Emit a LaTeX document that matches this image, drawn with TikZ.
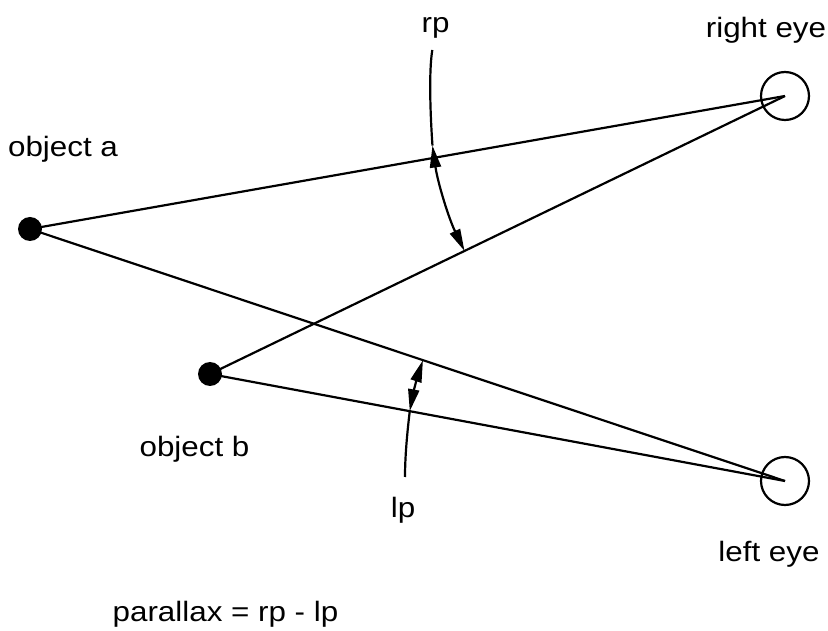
\documentclass[tikz,border=0pt]{standalone}
\usepackage{fontspec}
\setmainfont{Liberation Sans}[FakeStretch=1.12]
\usetikzlibrary{arrows.meta,calc}
\begin{document}
\begin{tikzpicture}[x=1pt,y=1pt,
  ln/.style={line width=2.2pt},
  dot/.style={circle,fill=black,minimum size=24pt,inner sep=0pt},
  eye/.style={circle,draw=black,line width=2.2pt,minimum size=48pt,inner sep=0pt},
  lbl/.style={font=\fontsize{28}{32}\selectfont,inner sep=0pt,anchor=base},
  tips/.style={{Triangle[length=22pt,width=11pt]}-{Triangle[length=22pt,width=11pt]}}]
\useasboundingbox (0,0) rectangle (828,630);
% objects and eyes
\node[dot] (a) at (30,401) {};
\node[dot] (b) at (210,256) {};
\node[eye] (re) at (785,534) {};
\node[eye] (le) at (785,149) {};
% sight lines
\draw[ln] (a.center) -- (re.center);
\draw[ln] (a.center) -- (le.center);
\draw[ln] (b.center) -- (re.center);
\draw[ln] (b.center) -- (le.center);
% rp angle
\coordinate (rp1) at ($(re.center)+(188:356)$);
\draw[ln,tips] (rp1) arc[start angle=188,end angle=205.8,radius=356];
\coordinate (rptail) at (432.3,580);
\draw[ln] (rp1) .. controls (430,520) and (429,560) .. (rptail);
% lp angle
\coordinate (lp1) at ($(le.center)+(161.55:381.7)$);
\coordinate (lp2) at ($(le.center)+(169.46:381.7)$);
\draw[ln,tips] (lp1) arc[start angle=161.55,end angle=169.46,radius=381.7];
\coordinate (lptail) at (405,153);
\draw[ln] (lp2) .. controls (407.5,200) and (405,175) .. (lptail);
% labels
\node[lbl] (trp) at (435.5,597) {rp};
\node[lbl] (tre) at (766,592) {right eye};
\node[lbl] (ta) at (63,473) {object a};
\node[lbl] (tb) at (194.5,173) {object b};
\node[lbl] (tlp) at (403,113) {lp};
\node[lbl] (tle) at (769,69) {left eye};
\node[lbl] (tpar) at (225.5,9) {parallax = rp - lp};
\end{tikzpicture}
\end{document}
